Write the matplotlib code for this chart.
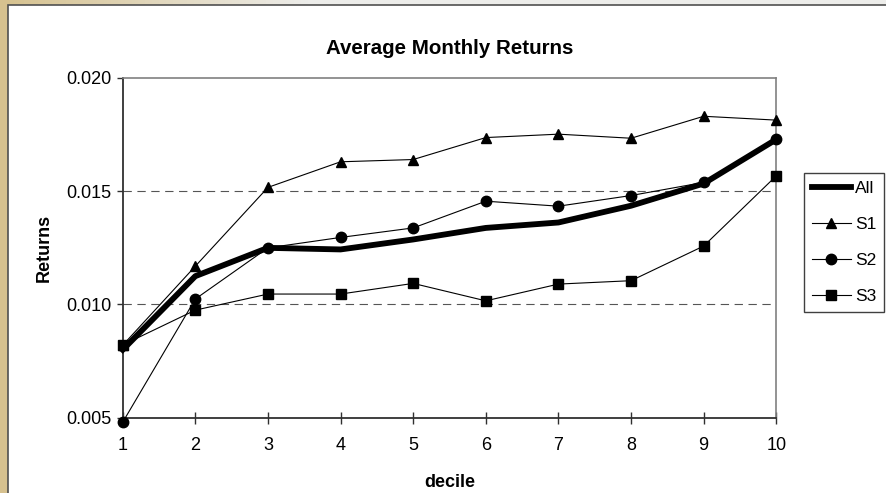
import numpy as np
import matplotlib
matplotlib.use('Agg')
import matplotlib.pyplot as plt
from matplotlib.patches import Rectangle

plt.rcParams['font.family'] = ['Liberation Sans', 'DejaVu Sans']

deciles = [1, 2, 3, 4, 5, 6, 7, 8, 9, 10]
ret_all = [0.0080, 0.01125, 0.0125, 0.01243, 0.01287, 0.01338, 0.01362, 0.01436, 0.01534, 0.01729]
ret_s1 = [0.0082, 0.01169, 0.01517, 0.01630, 0.01640, 0.01737, 0.01752, 0.01734, 0.01831, 0.01814]
ret_s2 = [0.0048, 0.01024, 0.0125, 0.01296, 0.01338, 0.01456, 0.01434, 0.01481, 0.01539, 0.01729]
ret_s3 = [0.00821, 0.00975, 0.01046, 0.01046, 0.01093, 0.01016, 0.0109, 0.01105, 0.01258, 0.01568]
yticks = [0.005, 0.010, 0.015, 0.020]

W, H = 886, 493
fig = plt.figure(figsize=(W / 100, H / 100), dpi=100)
fig.patch.set_facecolor('#d6c18f')

# top strip fades from tan into grey
bg = fig.add_axes([0, 0, 1, 1], zorder=-10)
bg.set_axis_off()
t = np.clip(np.linspace(0, 1, 256) / 0.35, 0, 1)[None, :, None]
grad = (1 - t) * np.array([0.84, 0.76, 0.56]) + t * np.array([0.93, 0.93, 0.92])
bg.imshow(grad, extent=[0, W, H - 5, H], aspect='auto')
bg.add_patch(Rectangle((0, 0), 8, H, color='#d6c18f', zorder=1))
bg.add_patch(Rectangle((8, -2), W, H - 5 + 2, facecolor='white',
                       edgecolor='#505050', linewidth=1.2, zorder=2))
bg.set_xlim(0, W)
bg.set_ylim(0, H)

ax = fig.add_axes([122.7 / W, 1 - 417.7 / H, (776.3 - 122.7) / W, (417.7 - 78) / H])
ax.set_facecolor('white')

line_all, = ax.plot(deciles, ret_all, color='black', lw=4.2, solid_joinstyle='round',
                    clip_on=False, label='All', zorder=3)
line_s1, = ax.plot(deciles, ret_s1, color='black', lw=0.8, marker='^', ms=7.5,
                   clip_on=False, label='S1', zorder=4)
line_s2, = ax.plot(deciles, ret_s2, color='black', lw=0.8, marker='o', ms=7.5,
                   clip_on=False, label='S2', zorder=4)
line_s3, = ax.plot(deciles, ret_s3, color='black', lw=0.8, marker='s', ms=7.5,
                   clip_on=False, label='S3', zorder=4)

for g in [0.010, 0.015]:
    ax.axhline(g, color='#555555', lw=0.8, dashes=(7.5, 5), zorder=1)

ax.set_xlim(1, 10)
ax.set_ylim(0.005, 0.020)
ax.set_xticks(deciles)
ax.set_yticks(yticks)
ax.set_yticklabels(['%.3f' % v for v in yticks])
ax.tick_params(axis='x', direction='inout', length=8, width=1, color='#303030',
               labelsize=13, pad=10)
ax.tick_params(axis='y', direction='out', length=4, width=1, color='#303030',
               labelsize=13, pad=4)

for side in ['left', 'bottom']:
    ax.spines[side].set_color('#303030')
    ax.spines[side].set_linewidth(1.3)
for side in ['top', 'right']:
    ax.spines[side].set_color('#808080')
    ax.spines[side].set_linewidth(1.2)

ax.set_title('Average Monthly Returns', fontsize=14.8, fontweight='bold', pad=17.5)
ax.set_xlabel('decile', fontsize=13, fontweight='bold', labelpad=14)
ax.set_ylabel('Returns', fontsize=13, fontweight='bold', labelpad=10)

leg = fig.legend(handles=[line_all, line_s1, line_s2, line_s3], loc='upper left',
                 bbox_to_anchor=(804 / W, 1 - 173 / H), borderaxespad=0,
                 fontsize=12.5, handlelength=2.25, handletextpad=0.25,
                 labelspacing=1.2, borderpad=0.45, fancybox=False, framealpha=1)
leg.get_frame().set_edgecolor('#404040')
leg.get_frame().set_linewidth(1.0)

plt.savefig('out.png', dpi=100)
